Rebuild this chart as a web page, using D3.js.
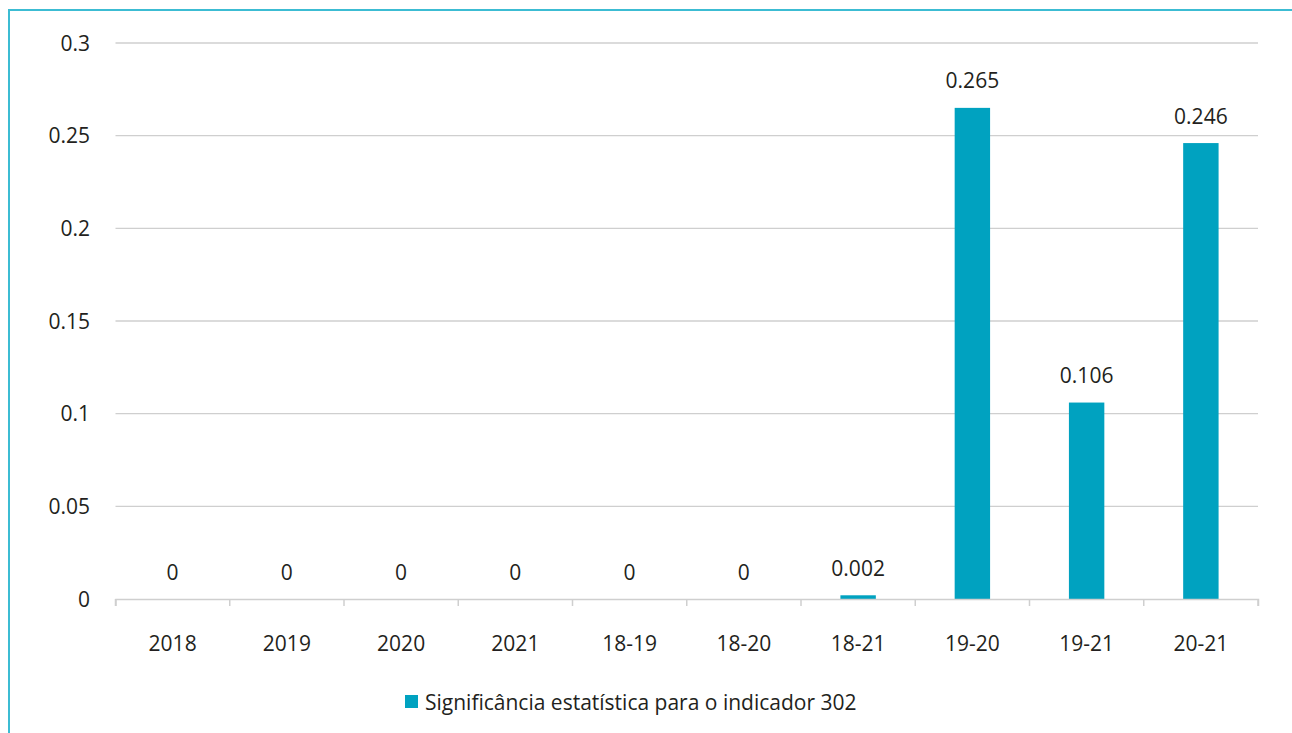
<!DOCTYPE html>
<html><head><meta charset="utf-8">
<script src="https://cdn.jsdelivr.net/npm/d3@7"></script>
<style>html,body{margin:0;padding:0;background:#fff;}svg{display:block;}</style>
</head><body>
<svg id="c" width="1292" height="733"></svg>
<script>
const categories = ["2018","2019","2020","2021","18-19","18-20","18-21","19-20","19-21","20-21"];
const values = [0,0,0,0,0,0,0.002,0.265,0.106,0.246];
const labels = ["0","0","0","0","0","0","0.002","0.265","0.106","0.246"];
const yTicks = [0,0.05,0.1,0.15,0.2,0.25,0.3];
const yTickLabels = ["0","0.05","0.1","0.15","0.2","0.25","0.3"];
const seriesName = "Significância estatística para o indicador 302";

const svg = d3.select("#c");
const font = "'Open Sans', sans-serif";
const fs = 21;
const textColor = "#231f20";
const barColor = "#00a2c0";

// frame
svg.append("rect").attr("x",9).attr("y",10).attr("width",1400).attr("height",800)
  .attr("fill","none").attr("stroke","#3cbcd3").attr("stroke-width",2);

const L=115.5, R=1258, T=43, B=599;
const x = d3.scaleBand().domain(categories).range([L,R]).paddingInner(0.69).paddingOuter(0.345);
const xo = d3.scaleBand().domain(categories).range([L,R]);
const y = d3.scaleLinear().domain([0,0.3]).range([B,T]);

// gridlines
svg.append("g").selectAll("line").data(yTicks.filter(d=>d>0)).join("line")
  .attr("x1",L).attr("x2",R).attr("y1",d=>y(d)).attr("y2",d=>y(d))
  .attr("stroke","#cfcfcf").attr("stroke-width",1.3);

// y labels
svg.append("g").selectAll("text").data(yTicks).join("text")
  .attr("x",90).attr("y",d=>y(d)).attr("dy","0.36em").attr("text-anchor","end")
  .attr("font-family",font).attr("font-size",fs).attr("fill",textColor)
  .text((d,i)=>yTickLabels[i]);

// bars
svg.append("g").selectAll("rect").data(values).join("rect")
  .attr("x",(d,i)=>x(categories[i])).attr("width",x.bandwidth())
  .attr("y",d=>y(d)).attr("height",d=>B-y(d)).attr("fill",barColor);

// x axis
const xAxis = d3.axisBottom(xo).tickSizeInner(7).tickSizeOuter(7).tickFormat("");
const ag = svg.append("g").attr("transform",`translate(0,${B})`).call(xAxis);
ag.select(".domain").attr("stroke","#cfcfcf").attr("stroke-width",1.5);
ag.selectAll(".tick").remove();
const bounds = categories.map(c=>xo(c)).concat([R]);
ag.selectAll("line.t").data(bounds).join("line").attr("class","t")
  .attr("x1",d=>d).attr("x2",d=>d).attr("y1",0).attr("y2",7)
  .attr("stroke","#cfcfcf").attr("stroke-width",1.5);

svg.append("g").selectAll("text").data(categories).join("text")
  .attr("x",d=>xo(d)+xo.bandwidth()/2).attr("y",643).attr("dy","0.36em")
  .attr("text-anchor","middle").attr("font-family",font).attr("font-size",fs).attr("fill",textColor)
  .text(d=>d);

// data labels
svg.append("g").selectAll("text").data(values).join("text")
  .attr("x",(d,i)=>xo(categories[i])+xo.bandwidth()/2).attr("y",d=>y(d)-27).attr("dy","0.36em")
  .attr("text-anchor","middle").attr("font-family",font).attr("font-size",fs).attr("fill",textColor)
  .text((d,i)=>labels[i]);

// legend
const lg = svg.append("g");
lg.append("rect").attr("x",405).attr("y",695).attr("width",13).attr("height",13).attr("fill",barColor);
lg.append("text").attr("x",425).attr("y",702).attr("dy","0.36em")
  .attr("font-family",font).attr("font-size",fs).attr("fill",textColor).text(seriesName);
</script>
</body></html>
